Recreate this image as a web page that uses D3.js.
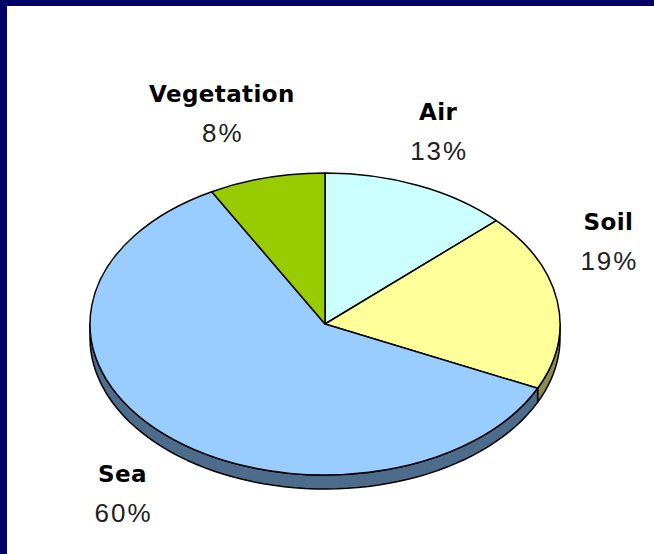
<!DOCTYPE html>
<html>
<head>
<meta charset="utf-8">
<script src="https://cdn.jsdelivr.net/npm/d3@7"></script>
<style>
  html, body { margin: 0; padding: 0; background: #fff; }
  svg { display: block; }
  .name { font-family: "DejaVu Sans", Verdana, sans-serif; font-weight: bold; font-size: 23px; fill: #000; letter-spacing: 0.4px; }
  .pct { font-family: "Liberation Sans", Arial, sans-serif; font-size: 26px; fill: #222; letter-spacing: 2px; }
</style>
</head>
<body>
<div id="chart"></div>
<script>
var categories = ['Air', 'Soil', 'Sea', 'Vegetation'];
var values = [13, 19, 60, 8];
var topColors = ['#CCFFFF', '#FFFF99', '#99CCFF', '#99CC00'];
var sideColors = ['#7a9999', '#8c8c52', '#4d6b8a', '#5c7a00'];

var width = 654, height = 554;
var cx = 325, cy = 324, rx = 235, ry = 151, depth = 14;

// label nudges from the default mid-angle spot (Excel puts them a bit oddly)
var labelPad = 55;
var nudges = [[-2, -15], [-3, -62], [-4, 8], [-31, -22]];

var svg = d3.select('#chart').append('svg')
    .attr('width', width)
    .attr('height', height);

// navy frame, only top & left show
svg.append('rect').attr('width', width).attr('height', height).attr('fill', '#000066');
svg.append('rect').attr('x', 7).attr('y', 6).attr('width', width).attr('height', height).attr('fill', '#fff');

var data = categories.map((c, i) => ({ name: c, value: values[i], i: i }));

var pie = d3.pie()
    .sort(null)
    .value(d => d.value);

var arcs = pie(data);

var g = svg.append('g').attr('transform', 'translate(' + cx + ',' + cy + ')');

var ex = a => Math.sin(a) * rx;
var ey = a => -Math.cos(a) * ry;

// side walls: only the front half (pi/2 .. 3pi/2) is visible
var line = d3.line();
arcs.forEach(d => {
    var a0 = Math.max(d.startAngle, Math.PI / 2);
    var a1 = Math.min(d.endAngle, Math.PI * 1.5);
    if (a1 <= a0) return;
    var n = 60;
    var angs = d3.range(n + 1).map(k => a0 + (a1 - a0) * k / n);
    var top = angs.map(a => [ex(a), ey(a)]);
    var bottom = angs.slice().reverse().map(a => [ex(a), ey(a) + depth]);
    g.append('path')
        .attr('d', line(top.concat(bottom)) + 'Z')
        .attr('fill', sideColors[d.data.i])
        .attr('stroke', '#000')
        .attr('stroke-width', 1.5)
        .attr('stroke-linejoin', 'round');
});

// top face: circular arcs squashed into the ellipse
var arc = d3.arc().innerRadius(0).outerRadius(rx);

g.append('g')
    .attr('transform', 'scale(1,' + (ry / rx) + ')')
    .selectAll('path')
    .data(arcs)
    .enter()
    .append('path')
    .attr('d', arc)
    .attr('fill', d => topColors[d.data.i])
    .attr('stroke', '#000')
    .attr('stroke-width', 1.5)
    .attr('vector-effect', 'non-scaling-stroke')
    .attr('stroke-linejoin', 'round');

// labels
var labels = svg.selectAll('.label')
    .data(arcs)
    .enter()
    .append('g')
    .attr('class', 'label')
    .attr('transform', d => {
        var m = (d.startAngle + d.endAngle) / 2;
        var x = cx + Math.sin(m) * (rx + labelPad) + nudges[d.data.i][0];
        var y = cy - Math.cos(m) * (ry + labelPad) + nudges[d.data.i][1];
        return 'translate(' + x + ',' + y + ')';
    });

labels.append('text')
    .attr('class', 'name')
    .attr('text-anchor', 'middle')
    .text(d => d.data.name);

labels.append('text')
    .attr('class', 'pct')
    .attr('text-anchor', 'middle')
    .attr('dx', 1)
    .attr('y', 40)
    .text(d => d.data.value + '%');
</script>
</body>
</html>
